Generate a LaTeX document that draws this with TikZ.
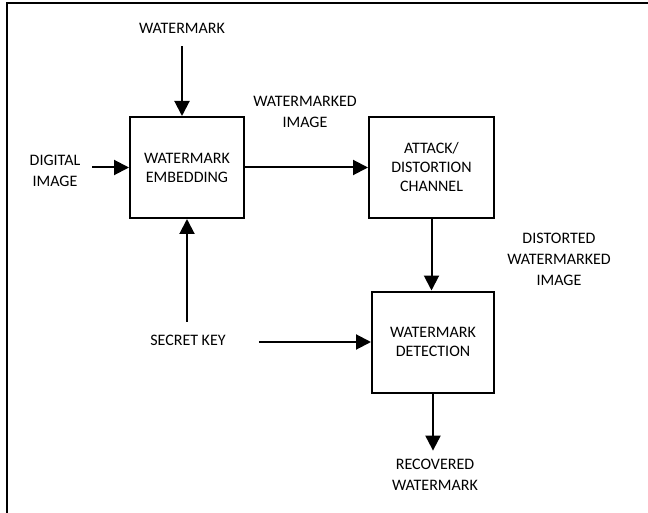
\documentclass[tikz,border=0pt]{standalone}
\usepackage{fontspec}
\setmainfont{Carlito}
\usetikzlibrary{positioning,arrows.meta}

\begin{document}
\begin{tikzpicture}[x=1pt, y=-1pt]
    \tikzset{
        block/.style = {rectangle, draw=black, line width=2pt, minimum width=114pt, minimum height=101pt,
                        align=center, inner sep=2pt, font=\fontsize{16}{19}\selectfont},
        lbl/.style = {align=center, inner sep=0pt, font=\fontsize{16}{21}\selectfont},
        arrow/.style = {line width=2pt, -{Triangle[length=15pt,width=15pt]}},
        frame/.style = {line width=2pt}
    }
    \useasboundingbox (0,0) rectangle (648,513);
    \draw [frame] (648,3) -| (7,513);

    \node (embed) [block] at (187,167.5) {WATERMARK\\EMBEDDING};
    \node (chan) [block, minimum width=125pt] at (431.5,167.5) {ATTACK/\\DISTORTION\\CHANNEL};
    \node (detect) [block, minimum width=122pt] at (433,342) {WATERMARK\\DETECTION};

    \node (wm) [lbl] at (182,28) {WATERMARK};
    \node (input) [lbl] at (55,171) {DIGITAL\\IMAGE};
    \node (wmimg) [lbl] at (305,111.5) {WATERMARKED\\IMAGE};
    \node (distimg) [lbl] at (559,259) {DISTORTED\\WATERMARKED\\IMAGE};
    \node (key) [lbl] at (188,340) {SECRET KEY};
    \node (rec) [lbl] at (435,474.5) {RECOVERED\\WATERMARK};

    \draw [arrow, shorten <=13pt] (wm.south) -- (wm.south |- embed.north);
    \draw [arrow, shorten <=12pt] (input.east |- embed) -- (embed.west);
    \draw [arrow] (embed) -- (chan);
    \draw [arrow] (chan.south) -- (chan.south |- detect.north);
    \draw [arrow, shorten <=13pt] (key.north -| embed) -- (embed.south);
    \draw [arrow, shorten <=33pt] (key.east |- detect) -- (detect.west);
    \draw [arrow, shorten >=8pt] (detect.south) -- (detect.south |- rec.north);
\end{tikzpicture}
\end{document}
